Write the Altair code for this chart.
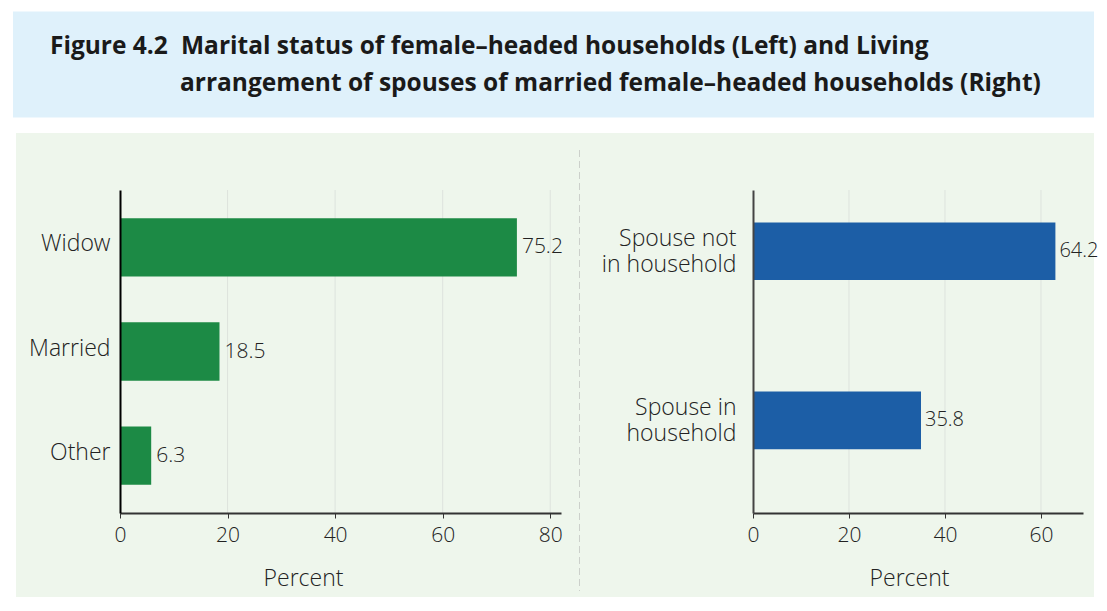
import altair as alt
import pandas as pd

# ---------------- data ----------------
left_categories = ["Widow", "Married", "Other"]
left_values = [73.8, 18.5, 5.8]          # bar lengths as drawn
left_labels = ["75.2", "18.5", "6.3"]    # printed value labels

right_categories = ["Spouse not in household", "Spouse in household"]
right_label_lines = [["Spouse not", "in household"], ["Spouse in", "household"]]
right_values = [63.0, 35.0]
right_labels = ["64.2", "35.8"]

x_ticks_left = [0, 20, 40, 60, 80]
x_ticks_right = [0, 20, 40, 60]

title_fig = "Figure 4.2"
title_line1 = "Marital status of female\u2013headed households (Left) and Living"
title_line2 = "arrangement of spouses of married female\u2013headed households (Right)"

# ---------------- style ----------------
FONT = "Open Sans"
TFONT = "Open Sans"
BLUE_BOX = "#dff1fb"
GREEN_BG = "#eef6ec"
GREEN_BAR = "#1c8a45"
BLUE_BAR = "#1c5ea6"
GRID = "#dde3dd"
TXT = "#222222"

W1, W2, H = 441, 330, 323
GAP = 192          # space between the two plot areas
BOTTOM = 84        # green panel extent below the plot area
RIGHT_PAD = 11     # green panel extent right of the right plot area
TITLE_RIGHT = W1 + GAP + W2 + RIGHT_PAD

one = pd.DataFrame({"d": [0]})


def x_axis(ticks, title_x):
    return alt.Axis(values=ticks, title="Percent", grid=False,
                    domainColor="#333333", domainWidth=2,
                    tickColor="#333333", tickSize=5, tickWidth=1,
                    labelFont=FONT, labelFontSize=21, labelFontWeight=300,
                    labelColor=TXT, labelPadding=6, labelFlush=False,
                    titleFont=FONT, titleFontSize=23, titleFontWeight=300,
                    titleColor=TXT, titleX=title_x, titleY=65,
                    titleBaseline="middle", titleAlign="center", zindex=1)


def panel(df, cats, domain_max, width, ticks, bar_color, y_axis, y_scale,
          bg_left, bg_right, title_x, label_dx, label_size,
          before=(), after=()):
    xs = alt.Scale(domain=[0, domain_max], nice=False)
    xax = x_axis(ticks, title_x)
    ysc = alt.Y("cat:N", sort=cats, scale=y_scale, axis=y_axis)
    grid_df = pd.DataFrame({"tick": ticks[1:]})
    layers = list(before) + [
        alt.Chart(one).mark_rect(color=GREEN_BG).encode(
            x=alt.value(bg_left), x2=alt.value(width + bg_right),
            y=alt.value(-57), y2=alt.value(H + BOTTOM)),
        alt.Chart(grid_df).mark_rule(color=GRID, strokeWidth=1).encode(
            x=alt.X("tick:Q", scale=xs, axis=xax),
            y=alt.value(0), y2=alt.value(H)),
        alt.Chart(df).mark_bar(color=bar_color).encode(
            x=alt.X("value:Q", scale=xs, axis=xax), y=ysc),
        alt.Chart(df).mark_text(align="left", baseline="middle", dx=label_dx,
                                font=FONT, fontSize=label_size,
                                fontWeight=300, color=TXT).encode(
            x=alt.X("value:Q", scale=xs, axis=xax), y=ysc, text="label:N"),
    ] + list(after)
    return alt.layer(*layers).properties(width=width, height=H)


left_df = pd.DataFrame({"cat": left_categories, "value": left_values,
                        "label": left_labels})
right_df = pd.DataFrame({"cat": right_categories, "value": right_values,
                         "label": right_labels})

left_yaxis = alt.Axis(title=None, ticks=False, domainColor="#000000",
                      domainWidth=2, labelFont=FONT, labelFontSize=23,
                      labelFontWeight=300, labelColor=TXT, labelPadding=10,
                      labelOffset=-3, zindex=1, grid=False)

arrs = ["[" + ", ".join("'" + s + "'" for s in lines) + "]"
        for lines in right_label_lines]
label_expr = "datum.value == '%s' ? %s : %s" % (right_categories[0], arrs[0], arrs[1])

right_yaxis = alt.Axis(title=None, ticks=False, domainColor="#444444",
                       domainWidth=2, labelFont=FONT, labelFontSize=23,
                       labelFontWeight=300, labelColor=TXT, labelPadding=17,
                       labelLineHeight=26, labelExpr=label_expr,
                       labelOffset=-12, zindex=1, grid=False)

# title box (drawn above the left panel, spanning the full width)
title_style = dict(align="left", baseline="alphabetic", font=TFONT,
                   fontSize=24.5, fontWeight="bold", color="#1a1a1a")
title_layers = [
    alt.Chart(one).mark_rect(color=BLUE_BOX).encode(
        x=alt.value(-107), x2=alt.value(TITLE_RIGHT),
        y=alt.value(-178.5), y2=alt.value(-72.5)),
    alt.Chart(one).mark_text(text=title_fig, **title_style).encode(
        x=alt.value(-70), y=alt.value(-136)),
    alt.Chart(one).mark_text(text=title_line1, **title_style).encode(
        x=alt.value(61), y=alt.value(-136)),
    alt.Chart(one).mark_text(text=title_line2, **title_style).encode(
        x=alt.value(60), y=alt.value(-99)),
]

divider = alt.Chart(one).mark_rule(color="#aaaaaa", strokeWidth=1,
                                   strokeDash=[7, 4]).encode(
    x=alt.value(W1 + 19), y=alt.value(-40), y2=alt.value(H + BOTTOM - 6))

left = panel(left_df, left_categories, 82, W1, x_ticks_left, GREEN_BAR,
             left_yaxis, alt.Scale(paddingInner=0.44, paddingOuter=0.27),
             -104, 19, 183, 5, 21, before=title_layers, after=[divider])

right = panel(right_df, right_categories, 68.75, W2, x_ticks_right, BLUE_BAR,
              right_yaxis,
              alt.Scale(paddingInner=0.659, paddingOuter=0.285, align=0.337),
              -(GAP - 19), RIGHT_PAD, 156, 4, 20)

chart = alt.hconcat(left, right, spacing=GAP, bounds="flush").properties(
    padding={"left": 5, "top": 3, "right": 0, "bottom": 0},
    background="white",
).configure_view(strokeWidth=0)

chart.save("out.html", embed_options={"renderer": "svg", "actions": False})
